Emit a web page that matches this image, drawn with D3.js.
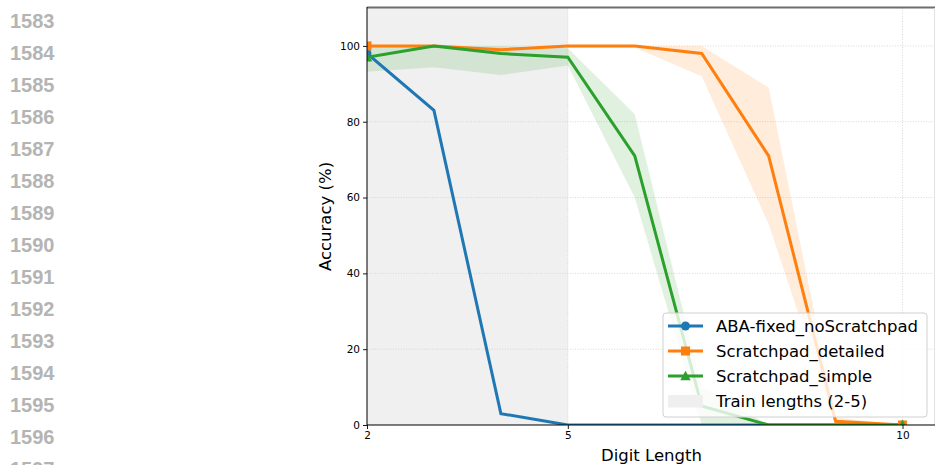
<!DOCTYPE html>
<html>
<head>
<meta charset="utf-8">
<script src="https://cdn.jsdelivr.net/npm/d3@7/dist/d3.min.js"></script>
<style>
  html, body { margin: 0; padding: 0; background: #fff; }
  svg { display: block; }
</style>
</head>
<body>
<svg id="chart" width="935" height="465"></svg>
<script>
// Digit lengths evaluated
const lengths = [2, 3, 4, 5, 6, 7, 8, 9, 10];

// Mean accuracy (%) per method
const abaFixedMean     = [98, 83, 3, 0, 0, 0, 0, 0, 0];
const detailedMean     = [100, 100, 99, 100, 100, 98, 71, 1, 0];
const simpleMean       = [97, 100, 98, 97, 71, 5, 0, 0, 0];

// Spread bands (lower / upper) per method
const abaFixedLower    = [98, 83, 3, 0, 0, 0, 0, 0, 0];
const abaFixedUpper    = [98, 83, 3, 0, 0, 0, 0, 0, 0];
const detailedLower    = [99.5, 99.5, 98.5, 99.5, 99.5, 92, 53, 0, 0];
const detailedUpper    = [100, 100, 99.5, 100, 100, 100, 89, 2, 0];
const simpleLower      = [93.2, 94.4, 92.3, 94.8, 60, 0, 0, 0, 0];
const simpleUpper      = [100, 100, 100, 99.4, 82, 10, 0, 0, 0];

const seriesNames  = ["ABA-fixed_noScratchpad", "Scratchpad_detailed", "Scratchpad_simple"];
const spanLabel    = "Train lengths (2-5)";
const trainSpan    = [2, 5];

const xTicks = [2, 5, 10];
const yTicks = [0, 20, 40, 60, 80, 100];

// Margin line numbers of the surrounding page
const lineNumbers = [1583, 1584, 1585, 1586, 1587, 1588, 1589, 1590, 1591, 1592, 1593, 1594, 1595, 1596, 1597];

const colors  = ["#1f77b4", "#ff7f0e", "#2ca02c"];
const markers = ["circle", "square", "triangle"];

const series = seriesNames.map((name, i) => ({
  name,
  color: colors[i],
  marker: markers[i],
  mean:  [abaFixedMean, detailedMean, simpleMean][i],
  lower: [abaFixedLower, detailedLower, simpleLower][i],
  upper: [abaFixedUpper, detailedUpper, simpleUpper][i]
}));

const svg = d3.select("#chart");
const W = 935, H = 465;
const plot = { left: 367, right: 936, top: 8, bottom: 425 };

const x = d3.scaleLinear().domain([2, 10.5]).range([plot.left, plot.right]);
const y = d3.scaleLinear().domain([0, 110]).range([plot.bottom, plot.top]);

// Page line numbers on the left margin
svg.append("g")
  .selectAll("text")
  .data(lineNumbers)
  .join("text")
  .attr("x", 10)
  .attr("y", (d, i) => 28 + i * 32)
  .attr("font-family", "'Liberation Sans', Arial, sans-serif")
  .attr("font-weight", "bold")
  .attr("font-size", 20)
  .attr("fill", "#b4b4b4")
  .text(d => d);

svg.append("defs").append("clipPath").attr("id", "plotClip")
  .append("rect")
  .attr("x", plot.left).attr("y", plot.top)
  .attr("width", plot.right - plot.left).attr("height", plot.bottom - plot.top);

const area = svg.append("g").attr("clip-path", "url(#plotClip)");

// Shaded training range
area.append("rect")
  .attr("x", x(trainSpan[0]))
  .attr("y", plot.top)
  .attr("width", x(trainSpan[1]) - x(trainSpan[0]))
  .attr("height", plot.bottom - plot.top)
  .attr("fill", "#f0f0f0");

// Dotted grid
const grid = area.append("g")
  .attr("stroke", "#d4d4d4")
  .attr("stroke-width", 0.9)
  .attr("stroke-dasharray", "1,1.6");
grid.selectAll("line.h")
  .data(yTicks).join("line").attr("class", "h")
  .attr("x1", plot.left).attr("x2", plot.right)
  .attr("y1", d => y(d)).attr("y2", d => y(d));
grid.selectAll("line.v")
  .data(xTicks).join("line").attr("class", "v")
  .attr("y1", plot.top).attr("y2", plot.bottom)
  .attr("x1", d => x(d)).attr("x2", d => x(d));

// Spread bands
const bandArea = d3.area()
  .x((d, i) => x(lengths[i]))
  .y0(d => y(d[0]))
  .y1(d => y(d[1]));
series.forEach(s => {
  area.append("path")
    .datum(s.lower.map((lo, i) => [lo, s.upper[i]]))
    .attr("d", bandArea)
    .attr("fill", s.color)
    .attr("fill-opacity", 0.15);
});

// Mean lines
const meanLine = d3.line()
  .x((d, i) => x(lengths[i]))
  .y(d => y(d));
series.forEach(s => {
  area.append("path")
    .datum(s.mean)
    .attr("d", meanLine)
    .attr("fill", "none")
    .attr("stroke", s.color)
    .attr("stroke-width", 3)
    .attr("stroke-linejoin", "miter");
});

function drawMarker(g, type, cx, cy, color) {
  if (type === "circle") {
    g.append("circle").attr("cx", cx).attr("cy", cy).attr("r", 4.5).attr("fill", color);
  } else if (type === "square") {
    g.append("rect").attr("x", cx - 4.5).attr("y", cy - 4.5).attr("width", 9).attr("height", 9).attr("fill", color);
  } else {
    const s = 5.2;
    g.append("path")
      .attr("d", `M${cx},${cy - s} L${cx + s},${cy + s * 0.8} L${cx - s},${cy + s * 0.8} Z`)
      .attr("fill", color);
  }
}

// End-point markers
series.forEach(s => {
  const ends = [0, lengths.length - 1];
  ends.forEach(i => drawMarker(area, s.marker, x(lengths[i]), y(s.mean[i]), s.color));
});

// Axes
const xAxis = d3.axisBottom(x).tickValues(xTicks).tickSize(4).tickPadding(3);
const yAxis = d3.axisLeft(y).tickValues(yTicks).tickSize(4).tickPadding(3);

const gx = svg.append("g").attr("transform", `translate(0,${plot.bottom})`).call(xAxis);
const gy = svg.append("g").attr("transform", `translate(${plot.left},0)`).call(yAxis);
[gx, gy].forEach(g => {
  g.select(".domain").remove();
  g.selectAll("line").attr("stroke", "#000").attr("stroke-width", 0.9);
  g.selectAll("text")
    .attr("font-family", "'DejaVu Sans', sans-serif")
    .attr("font-size", 10.5)
    .attr("fill", "#000");
});

// Spines
svg.append("line").attr("x1", plot.left).attr("x2", W).attr("y1", plot.top - 0.5).attr("y2", plot.top - 0.5)
  .attr("stroke", "#6e6e6e").attr("stroke-width", 2);
svg.append("line").attr("x1", 934.5).attr("x2", 934.5).attr("y1", plot.top).attr("y2", plot.bottom)
  .attr("stroke", "#e2e2e2").attr("stroke-width", 1);
svg.append("line").attr("x1", plot.left).attr("x2", plot.left).attr("y1", plot.top - 1).attr("y2", plot.bottom)
  .attr("stroke", "#000").attr("stroke-width", 1);
svg.append("line").attr("x1", plot.left).attr("x2", W).attr("y1", plot.bottom).attr("y2", plot.bottom)
  .attr("stroke", "#000").attr("stroke-width", 1);

// Axis titles
svg.append("text")
  .attr("x", (plot.left + W) / 2 + 0.5)
  .attr("y", 461)
  .attr("text-anchor", "middle")
  .attr("font-family", "'DejaVu Sans', sans-serif")
  .attr("font-size", 16.5)
  .text("Digit Length");
svg.append("text")
  .attr("transform", `translate(331,${(plot.top + plot.bottom) / 2}) rotate(-90)`)
  .attr("text-anchor", "middle")
  .attr("font-family", "'DejaVu Sans', sans-serif")
  .attr("font-size", 16.5)
  .text("Accuracy (%)");

// Legend
const legend = svg.append("g");
legend.append("rect")
  .attr("x", 663).attr("y", 313)
  .attr("width", 264).attr("height", 104)
  .attr("rx", 3)
  .attr("fill", "#fff").attr("fill-opacity", 0.8)
  .attr("stroke", "#d0d0d0").attr("stroke-width", 1);
const rowY = [326, 351, 376, 401];
series.forEach((s, i) => {
  legend.append("line")
    .attr("x1", 668).attr("x2", 703)
    .attr("y1", rowY[i]).attr("y2", rowY[i])
    .attr("stroke", s.color).attr("stroke-width", 3);
  drawMarker(legend, s.marker, 685.5, rowY[i], s.color);
  legend.append("text")
    .attr("x", 716).attr("y", rowY[i])
    .attr("dy", "0.36em")
    .attr("font-family", "'DejaVu Sans', sans-serif")
    .attr("font-size", 16.5)
    .text(s.name);
});
legend.append("rect")
  .attr("x", 668).attr("y", rowY[3] - 6)
  .attr("width", 35).attr("height", 12.5)
  .attr("fill", "#efefef");
legend.append("text")
  .attr("x", 716).attr("y", rowY[3])
  .attr("dy", "0.36em")
  .attr("font-family", "'DejaVu Sans', sans-serif")
  .attr("font-size", 16.5)
  .text(spanLabel);
</script>
</body>
</html>
